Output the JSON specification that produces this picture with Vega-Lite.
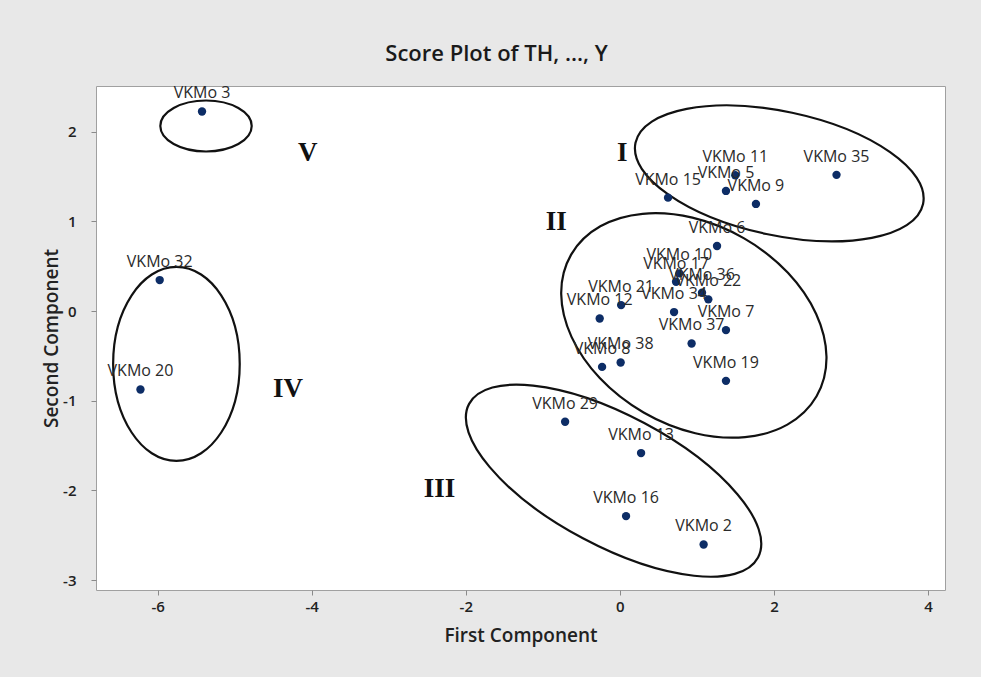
{
  "$schema": "https://vega.github.io/schema/vega-lite/v6.json",
  "width": 849,
  "height": 504,
  "autosize": "none",
  "padding": {"left": 96, "top": 86, "right": 36, "bottom": 87},
  "background": "#e8e8e8",
  "config": {
    "view": {"fill": "white", "stroke": "#a0a0a0", "strokeWidth": 1},
    "axis": {
      "grid": false,
      "domain": false,
      "tickColor": "#8a8a8a",
      "tickSize": 5,
      "labelFont": "Open Sans",
      "labelFontWeight": 600,
      "labelFontSize": 15,
      "labelColor": "#222222",
      "titleFont": "Open Sans",
      "titleFontWeight": 600,
      "titleFontSize": 19,
      "titleColor": "#222222"
    }
  },
  "title": {
    "text": "Score Plot of TH, ..., Y",
    "font": "Open Sans",
    "fontSize": 22,
    "fontWeight": 600,
    "color": "#1a1a1a",
    "anchor": "middle",
    "dx": -24,
    "baseline": "alphabetic",
    "offset": 2
  },
  "datasets": {
    "scores": [
      {"name": "VKMo 3", "x": -5.424, "y": 2.226},
      {"name": "VKMo 32", "x": -5.973, "y": 0.346},
      {"name": "VKMo 20", "x": -6.223, "y": -0.874},
      {"name": "VKMo 35", "x": 2.812, "y": 1.519},
      {"name": "VKMo 11", "x": 1.498, "y": 1.515},
      {"name": "VKMo 5", "x": 1.377, "y": 1.34},
      {"name": "VKMo 9", "x": 1.766, "y": 1.195},
      {"name": "VKMo 15", "x": 0.625, "y": 1.265},
      {"name": "VKMo 6", "x": 1.261, "y": 0.726},
      {"name": "VKMo 10", "x": 0.772, "y": 0.421},
      {"name": "VKMo 17", "x": 0.729, "y": 0.327},
      {"name": "VKMo 36", "x": 1.066, "y": 0.204},
      {"name": "VKMo 22", "x": 1.148, "y": 0.131},
      {"name": "VKMo 34", "x": 0.703, "y": -0.011},
      {"name": "VKMo 21", "x": 0.016, "y": 0.067},
      {"name": "VKMo 12", "x": -0.262, "y": -0.082},
      {"name": "VKMo 7", "x": 1.377, "y": -0.212},
      {"name": "VKMo 37", "x": 0.931, "y": -0.361},
      {"name": "VKMo 38", "x": 0.01, "y": -0.573},
      {"name": "VKMo 8", "x": -0.231, "y": -0.622},
      {"name": "VKMo 19", "x": 1.377, "y": -0.778},
      {"name": "VKMo 29", "x": -0.711, "y": -1.234},
      {"name": "VKMo 13", "x": 0.275, "y": -1.583},
      {"name": "VKMo 16", "x": 0.08, "y": -2.286},
      {"name": "VKMo 2", "x": 1.087, "y": -2.602}
    ],
    "groups": [
      {"group": "I", "x": 2.069, "y": 1.536},
      {"group": "II", "x": 0.96, "y": -0.16},
      {"group": "III", "x": -0.082, "y": -1.891},
      {"group": "IV", "x": -5.756, "y": -0.589},
      {"group": "V", "x": -5.372, "y": 2.064}
    ],
    "numerals": [
      {"label": "I", "x": 0.032, "y": 1.765},
      {"label": "II", "x": -0.827, "y": 0.988},
      {"label": "III", "x": -2.341, "y": -1.988},
      {"label": "IV", "x": -4.309, "y": -0.871},
      {"label": "V", "x": -4.053, "y": 1.761}
    ]
  },
  "layer": [
    {
      "mark": {"type": "rule", "stroke": "#b5b5b5", "strokeWidth": 1, "strokeDash": [5, 4]},
      "encoding": {"x": {"datum": 0, "type": "quantitative"}}
    },
    {
      "mark": {"type": "rule", "stroke": "#b5b5b5", "strokeWidth": 1, "strokeDash": [5, 4]},
      "encoding": {"y": {"datum": 0, "type": "quantitative"}}
    },
    {
      "data": {"name": "groups"},
      "mark": {"type": "point", "filled": false, "color": "#111111", "strokeWidth": 2.2, "size": 160000, "opacity": 1},
      "encoding": {
        "x": {"field": "x", "type": "quantitative"},
        "y": {"field": "y", "type": "quantitative"},
        "shape": {
          "field": "group",
          "type": "nominal",
          "legend": null,
          "scale": {
            "domain": ["I", "II", "III", "IV", "V"],
            "range": [
              "M0.7189,0.1528A0.735,0.31,12,0,1,-0.0645,0.3032A0.735,0.31,12,0,1,-0.7189,-0.1528A0.735,0.31,12,0,1,0.0645,-0.3032A0.735,0.31,12,0,1,0.7189,0.1528Z",
              "M0.6136,0.3543A0.7085,0.5025,30,0,1,-0.2513,0.4352A0.7085,0.5025,30,0,1,-0.6136,-0.3543A0.7085,0.5025,30,0,1,0.2513,-0.4352A0.7085,0.5025,30,0,1,0.6136,0.3543Z",
              "M0.7223,0.384A0.818,0.3265,28,0,1,-0.1533,0.2883A0.818,0.3265,28,0,1,-0.7223,-0.384A0.818,0.3265,28,0,1,0.1533,-0.2883A0.818,0.3265,28,0,1,0.7223,0.384Z",
              "M0.3165,0A0.3165,0.485,0,0,1,0,0.485A0.3165,0.485,0,0,1,-0.3165,0A0.3165,0.485,0,0,1,0,-0.485A0.3165,0.485,0,0,1,0.3165,0Z",
              "M0.2285,0A0.2285,0.1275,0,0,1,0,0.1275A0.2285,0.1275,0,0,1,-0.2285,0A0.2285,0.1275,0,0,1,0,-0.1275A0.2285,0.1275,0,0,1,0.2285,0Z"
            ]
          }
        }
      }
    },
    {
      "data": {"name": "scores"},
      "mark": {"type": "circle", "color": "#0d2d66", "size": 70, "opacity": 1},
      "encoding": {
        "x": {
          "field": "x",
          "type": "quantitative",
          "title": "First Component",
          "scale": {"domain": [-6.8, 4.22], "nice": false, "zero": false},
          "axis": {"values": [-6, -4, -2, 0, 2, 4], "labelExpr": "'' + datum.value", "labelPadding": 4, "titlePadding": 12}
        },
        "y": {
          "field": "y",
          "type": "quantitative",
          "title": "Second Component",
          "scale": {"domain": [-3.11, 2.51], "nice": false, "zero": false},
          "axis": {"values": [-3, -2, -1, 0, 1, 2], "labelExpr": "'' + datum.value", "labelPadding": 15, "titlePadding": 1}
        }
      }
    },
    {
      "data": {"name": "scores"},
      "mark": {"type": "text", "font": "Open Sans", "fontSize": 16, "color": "#2a2a2a", "align": "center", "baseline": "alphabetic", "dy": -13},
      "encoding": {
        "x": {"field": "x", "type": "quantitative"},
        "y": {"field": "y", "type": "quantitative"},
        "text": {"field": "name", "type": "nominal"}
      }
    },
    {
      "data": {"name": "numerals"},
      "mark": {"type": "text", "font": "Liberation Serif", "fontWeight": "bold", "fontSize": 27, "color": "#111111", "align": "center", "baseline": "middle"},
      "encoding": {
        "x": {"field": "x", "type": "quantitative"},
        "y": {"field": "y", "type": "quantitative"},
        "text": {"field": "label", "type": "nominal"}
      }
    }
  ]
}
